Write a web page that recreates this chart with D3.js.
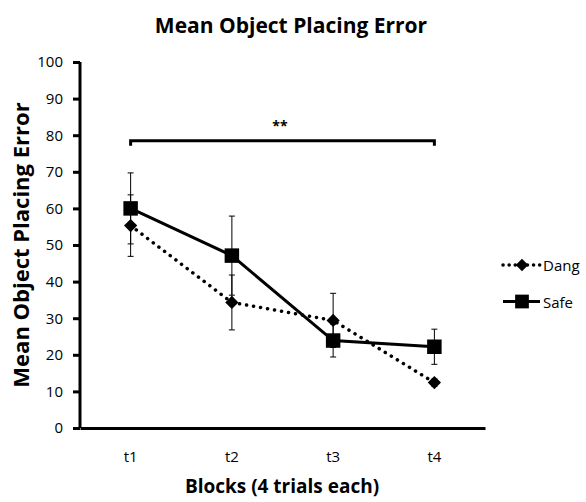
<!DOCTYPE html>
<html>
<head>
<meta charset="utf-8">
<script src="https://cdn.jsdelivr.net/npm/d3@7"></script>
<style>
  body { margin: 0; background: #fff; }
  text { font-family: "Open Sans", "Noto Sans", sans-serif; fill: #000; }
</style>
</head>
<body>
<svg id="chart" width="586" height="502"></svg>
<script>
// data
const blocks = ["t1", "t2", "t3", "t4"];
const dangMean = [55.3, 34.3, 29.4, 12.4];
const dangErr = [8.4, 7.5, 7.4, 1.0];
const safeMean = [60.0, 47.1, 23.9, 22.2];
const safeErr = [9.7, 10.8, 4.5, 4.8];
const yTicks = [0, 10, 20, 30, 40, 50, 60, 70, 80, 90, 100];

const svg = d3.select("#chart");
const margin = { left: 80, right: 101, top: 62, bottom: 74 };
const width = 586, height = 502;

const x = d3.scaleBand()
  .domain(blocks)
  .range([margin.left, width - margin.right]);

const y = d3.scaleLinear()
  .domain([0, 100])
  .range([height - margin.bottom, margin.top]);

const cx = d => x(d) + x.bandwidth() / 2;

// title
svg.append("text")
  .attr("x", 291).attr("y", 33)
  .attr("text-anchor", "middle")
  .style("font-size", "21px").style("font-weight", "bold")
  .text("Mean Object Placing Error");

// y axis
const yAxis = svg.append("g")
  .attr("transform", `translate(${margin.left},0)`)
  .call(d3.axisLeft(y).tickValues(yTicks).tickSize(7).tickPadding(10));
yAxis.select(".domain").attr("stroke-width", 3).attr("d", `M0,${y(100)}V${y(0)}`);
yAxis.selectAll(".tick line").attr("stroke-width", 3);
yAxis.selectAll(".tick text").style("font-size", "15px").style("font-family", "Open Sans");

// x axis
const xAxis = svg.append("g")
  .attr("transform", `translate(0,${y(0)})`)
  .call(d3.axisBottom(x).tickSize(0).tickPadding(23));
xAxis.select(".domain").attr("stroke-width", 3);
xAxis.selectAll(".tick text").style("font-size", "15px").style("font-family", "Open Sans");

// axis titles
svg.append("text")
  .attr("x", 282).attr("y", 493)
  .attr("text-anchor", "middle")
  .style("font-size", "19px").style("font-weight", "bold")
  .text("Blocks (4 trials each)");

svg.append("text")
  .attr("transform", "translate(29,245) rotate(-90)")
  .attr("text-anchor", "middle")
  .style("font-size", "22px").style("font-weight", "bold")
  .text("Mean Object Placing Error");

// significance bracket
const bx1 = cx("t1"), bx2 = cx("t4"), by = y(78.5);
svg.append("path")
  .attr("d", `M${bx1},${by + 5}V${by}H${bx2}V${by + 5}`)
  .attr("fill", "none").attr("stroke", "#000").attr("stroke-width", 3);
svg.append("text")
  .attr("x", 280).attr("y", by - 10)
  .attr("text-anchor", "middle")
  .style("font-size", "14px").style("font-weight", "bold")
  .text("**");

// series (diamond = square turned 45deg)
const series = [
  { name: "Dang", mean: dangMean, err: dangErr, dash: "0.1 7", shape: d3.symbolSquare, rot: 45, size: 88 },
  { name: "Safe", mean: safeMean, err: safeErr, dash: null, shape: d3.symbolSquare, rot: 0, size: 210 }
];

const line = d3.line().x((d, i) => cx(blocks[i])).y(d => y(d));

series.forEach(s => {
  const g = svg.append("g");
  // error bars
  s.mean.forEach((m, i) => {
    const xx = cx(blocks[i]);
    const top = y(m + s.err[i]), bot = y(m - s.err[i]);
    g.append("path")
      .attr("d", `M${xx},${top}V${bot}M${xx - 3},${top}H${xx + 3}M${xx - 3},${bot}H${xx + 3}`)
      .attr("fill", "none").attr("stroke", "#000").attr("stroke-width", 1);
  });
  g.append("path")
    .attr("d", line(s.mean))
    .attr("fill", "none").attr("stroke", "#000")
    .attr("stroke-width", s.dash ? 3.5 : 3)
    .attr("stroke-linecap", s.dash ? "round" : "butt")
    .attr("stroke-dasharray", s.dash);
  g.selectAll(".pt")
    .data(s.mean)
    .join("path")
    .attr("transform", (d, i) => `translate(${cx(blocks[i])},${y(d)}) rotate(${s.rot})`)
    .attr("d", d3.symbol().type(s.shape).size(s.size))
    .attr("fill", "#000");
});

// legend
series.forEach((s, i) => {
  const ly = 265 + i * 36.5;
  svg.append("path")
    .attr("d", `M503,${ly}H540`)
    .attr("stroke", "#000")
    .attr("stroke-width", s.dash ? 3.5 : 3)
    .attr("stroke-linecap", s.dash ? "round" : "butt")
    .attr("stroke-dasharray", s.dash ? "0.1 6" : null);
  svg.append("path")
    .attr("transform", `translate(522,${ly}) rotate(${s.rot})`)
    .attr("d", d3.symbol().type(s.shape).size(s.size * 0.9))
    .attr("fill", "#000");
  svg.append("text")
    .attr("x", 543).attr("y", ly + 6)
    .style("font-size", "15px")
    .text(s.name);
});
</script>
</body>
</html>
